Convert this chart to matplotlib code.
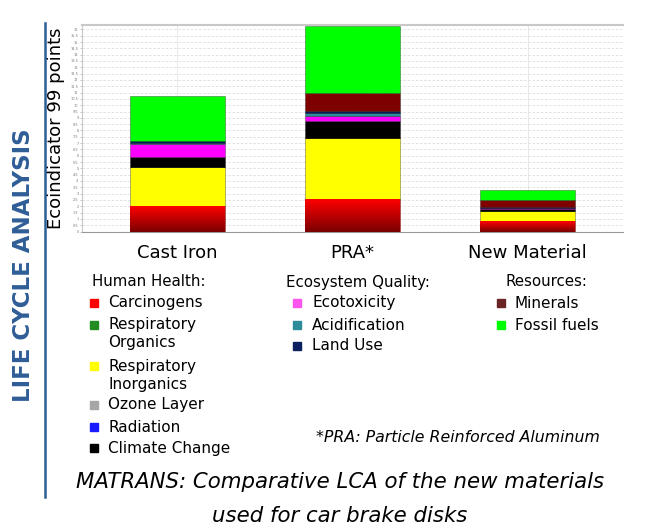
import numpy as np
import matplotlib
matplotlib.use('Agg')
import matplotlib.pyplot as plt
from matplotlib.colors import LinearSegmentedColormap

# materials on the x axis
materials = ['Cast Iron', 'PRA*', 'New Material']

# impact categories, stacked bottom to top
impacts = ['Carcinogens', 'Respiratory Organics', 'Respiratory Inorganics',
           'Ozone Layer', 'Radiation', 'Climate Change',
           'Ecotoxicity', 'Acidification', 'Land Use',
           'Minerals', 'Fossil fuels']

# Ecoindicator 99 points per impact
cast_iron = [1.98, 0.0, 3.12, 0.0, 0.0, 0.79, 1.00, 0.12, 0.18, 0.0, 3.57]
pra = [2.60, 0.0, 4.84, 0.0, 0.0, 1.33, 0.40, 0.24, 0.16, 1.41, 5.29]
new_material = [0.87, 0.0, 0.79, 0.0, 0.0, 0.10, 0.08, 0.02, 0.08, 0.58, 0.79]

bar_colors = ['#ff0000', '#228b22', '#ffff00', '#a0a0a0', '#1010ff', '#000000',
              '#ff00ff', '#2e8b9a', '#001a5c', '#7f0000', '#00ff00']
legend_colors = ['#ff0000', '#228b22', '#ffff00', '#a6a6a6', '#1a1aff', '#000000',
                 '#ff55ee', '#2e8b9a', '#0a2060', '#6b2424', '#00ff00']

# legend groups
groups = [('Human Health:', ['Carcinogens', 'Respiratory\nOrganics', 'Respiratory\nInorganics',
                             'Ozone Layer', 'Radiation', 'Climate Change']),
          ('Ecosystem Quality:', ['Ecotoxicity', 'Acidification', 'Land Use']),
          ('Resources:', ['Minerals', 'Fossil fuels'])]

y_ticks = np.arange(0, 16.01, 0.5)

W, H = 654, 529
fig = plt.figure(figsize=(W / 100, H / 100), dpi=100)

def fx(px):
    return px / W

def fy(py):
    return 1 - py / H

ax = fig.add_axes([fx(82), fy(231.5), fx(623) - fx(82), fy(25) - fy(231.5)])

data = np.array([cast_iron, pra, new_material])
x = np.arange(len(materials))
width = 0.54
bottom = np.zeros(len(materials))
for i, name in enumerate(impacts):
    ax.bar(x, data[:, i], width, bottom=bottom, color=bar_colors[i],
           edgecolor=(0, 0, 0, 0.35), linewidth=0.6, zorder=2)
    bottom += data[:, i]

# dark-to-bright shading on the carcinogens segment
grad = np.linspace(0, 1, 100).reshape(-1, 1)
red_cmap = LinearSegmentedColormap.from_list('reds', ['#7a0000', '#ff0000'])
for xi in x:
    ax.imshow(grad, cmap=red_cmap, origin='lower', aspect='auto',
              extent=[xi - width / 2, xi + width / 2, 0, data[xi, 0]], zorder=3)

ax.set_xlim(-0.545, 2.545)
ax.set_ylim(0, 16.35)
ax.set_yticks(y_ticks)
ax.set_yticklabels([('%g' % v) for v in y_ticks], fontsize=2.5, color='#777777')
ax.set_xticks(x)
ax.set_xticklabels(materials, fontsize=13)
ax.tick_params(axis='x', length=0, pad=9)
ax.tick_params(axis='y', length=1.5, width=0.4, color='#999999', pad=1)
ax.yaxis.grid(True, linestyle=(0, (3, 2)), color='#dddddd', linewidth=0.6, zorder=0)
ax.xaxis.grid(True, linestyle='-', color='#e4e4e4', linewidth=0.6, zorder=0)
ax.set_axisbelow(True)
for side in ['top', 'left']:
    ax.spines[side].set_color('#c8c8c8')
ax.spines['right'].set_visible(False)
ax.spines['bottom'].set_color('#999999')
ax.spines['top'].set_linewidth(1.5)
ax.set_ylabel('Ecoindicator 99 points', fontsize=13, labelpad=4)

# side title and rule
blue = '#2f5d96'
fig.text(fx(24), fy(265), 'LIFE CYCLE ANALYSIS', rotation=90, color=blue,
         fontsize=16.5, fontweight='bold', ha='center', va='center')
fig.add_artist(plt.Line2D([fx(45), fx(45)], [fy(23), fy(497)], color=blue, linewidth=1.8))

# legend built by hand in three columns
col_head_x = [92, 286, 506]
col_mark_x = [94, 297, 501]
col_text_x = [108, 312, 515]
row_y = {'Human Health:': [303, 334, 375, 405, 427, 448],
         'Ecosystem Quality:': [303, 325, 346],
         'Resources:': [303, 325]}
k = 0
for c, (head, items) in enumerate(groups):
    fig.text(fx(col_head_x[c]), fy(282), head, fontsize=10.8, ha='left', va='center')
    for j, item in enumerate(items):
        yy = row_y[head][j]
        nl = item.count('\n')
        fig.text(fx(col_text_x[c]), fy(yy), item, fontsize=11, ha='left', va='center',
                 linespacing=1.25)
        my = yy if nl == 0 else yy - 9.5
        fig.patches.append(plt.Rectangle((fx(col_mark_x[c] - 4), fy(my + 4)), fx(8), 8 / H,
                                         transform=fig.transFigure, color=legend_colors[k]))
        k += 1

fig.text(fx(600), fy(438), '*PRA: Particle Reinforced Aluminum', fontsize=11.3,
         style='italic', ha='right', va='center')
fig.text(fx(340), fy(482), 'MATRANS: Comparative LCA of the new materials', fontsize=15.3,
         style='italic', ha='center', va='center')
fig.text(fx(340), fy(516), 'used for car brake disks', fontsize=15.3,
         style='italic', ha='center', va='center')

fig.savefig('out.png', dpi=100)
